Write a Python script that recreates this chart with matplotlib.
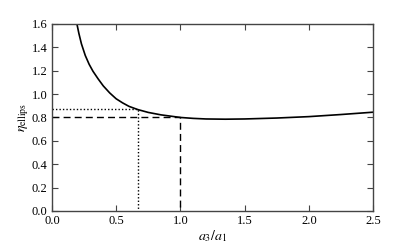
import numpy as np
import matplotlib
matplotlib.use('Agg')
import matplotlib.pyplot as plt

plt.rcParams['font.family'] = 'Liberation Serif'
plt.rcParams['mathtext.fontset'] = 'stix'

# curve
ratio = [0.195, 0.21, 0.23, 0.26, 0.29, 0.32, 0.36, 0.40, 0.45, 0.50, 0.55, 0.60,
         0.667, 0.75, 0.85, 1.00, 1.10, 1.20, 1.35, 1.50, 1.75, 2.00, 2.25, 2.50]
eta = [1.60, 1.52, 1.43, 1.33, 1.255, 1.195, 1.13, 1.07, 1.01, 0.96, 0.925, 0.895,
       0.868, 0.843, 0.822, 0.800, 0.792, 0.787, 0.785, 0.787, 0.795, 0.807, 0.825, 0.845]

# marked points
dot_x, dot_y = 0.667, 0.87
dash_x, dash_y = 1.0, 0.80

fig = plt.figure(figsize=(4.15, 2.47), dpi=100)
ax = fig.add_axes([0.125, 0.146, 0.774, 0.757])
ax.plot(ratio, eta, color='black', lw=1.2)
ax.plot([0, dot_x, dot_x], [dot_y, dot_y, 0], color='black', lw=1.0, linestyle=(0, (1, 1.5)))
ax.plot([0, dash_x, dash_x], [dash_y, dash_y, 0], color='black', lw=1.0, linestyle='--', dashes=(5, 3))

ax.set_xlim(0, 2.5)
ax.set_ylim(0, 1.6)
ax.set_xticks(np.arange(0, 2.51, 0.5))
ax.set_yticks(np.arange(0, 1.61, 0.2))
ax.tick_params(direction='in', top=True, right=True, labelsize=9, length=4, color='#444444', pad=3)
for s in ax.spines.values():
    s.set_color('#444444')
    s.set_linewidth(1.0)
ax.set_xlabel(r'$a_3/a_1$', fontsize=10, labelpad=1)
ax.set_ylabel(r'$\eta_{\rm ellips}$', fontsize=10, labelpad=1)

plt.savefig('out.png', dpi=100)
